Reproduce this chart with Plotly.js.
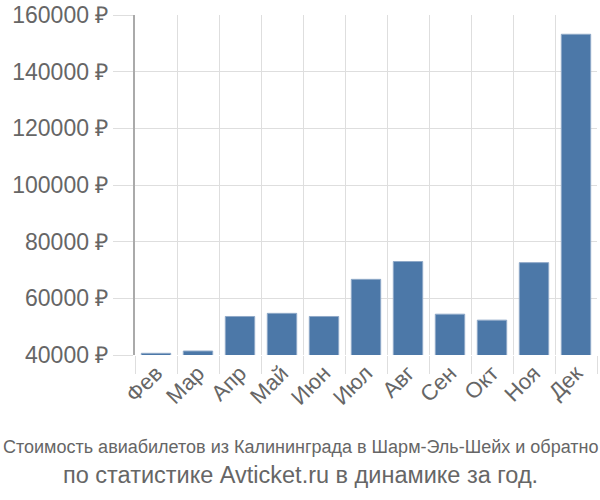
<!DOCTYPE html>
<html><head><meta charset="utf-8">
<script src="https://cdn.plot.ly/plotly-3.0.1.min.js"></script>
<style>html,body{margin:0;padding:0;background:#fff}</style>
</head><body>
<div id="chart" style="width:600px;height:500px"></div>
<script>
const months = ["Фев","Мар","Апр","Май","Июн","Июл","Авг","Сен","Окт","Ноя","Дек"];
const prices = [40600, 41400, 53600, 54700, 53600, 66700, 73000, 54400, 52300, 72600, 153200];
const yTicks = [40000, 60000, 80000, 100000, 120000, 140000, 160000];
const titleLine1 = "Стоимость авиабилетов из Калининграда в Шарм-Эль-Шейх и обратно";
const titleLine2 = "по статистике Avticket.ru в динамике за год.";

const data = [{
  type: "bar",
  x: months,
  y: prices,
  width: 0.7,
  marker: {color: "#4c78a8", line: {color: "#8fa9c8", width: 1}},
  hoverinfo: "x+y"
}];

const layout = {
  width: 600, height: 500,
  margin: {l: 135, r: 3, t: 15, b: 145},
  paper_bgcolor: "#fff", plot_bgcolor: "#fff",
  showlegend: false,
  bargap: 0.3,
  font: {family: "Liberation Sans, Arial, sans-serif", color: "#666"},
  xaxis: {
    type: "category",
    tickson: "boundaries",
    showgrid: true, gridcolor: "#dedede", gridwidth: 1,
    ticks: "outside", ticklen: 18, tickcolor: "#dedede",
    tickangle: -45,
    tickfont: {size: 22, color: "#666"},
    showline: false, zeroline: false,
    range: [-0.5, 10.5]
  },
  yaxis: {
    range: [40000, 160000],
    tickvals: yTicks,
    ticktext: yTicks.map(v => v + " ₽"),
    showgrid: true, gridcolor: "#dedede", gridwidth: 1,
    ticks: "outside", ticklen: 20, tickcolor: "#dedede",
    tickfont: {size: 23, color: "#666"},
    showline: true, linecolor: "#aaa", linewidth: 2,
    zeroline: false
  },
  annotations: [
    {text: titleLine1, xref: "paper", yref: "paper", x: (300-135)/462, y: (355-447)/340,
     xanchor: "center", yanchor: "middle", showarrow: false,
     font: {family: "Liberation Sans Narrow, Arial Narrow, Liberation Sans, sans-serif", size: 18, color: "#666"}},
    {text: titleLine2, xref: "paper", yref: "paper", x: (300-135)/462, y: (355-475)/340,
     xanchor: "center", yanchor: "middle", showarrow: false,
     font: {family: "Liberation Sans, Arial, sans-serif", size: 23.5, color: "#666"}}
  ]
};

Plotly.newPlot("chart", data, layout, {displayModeBar: false, staticPlot: true});
</script>
</body></html>
